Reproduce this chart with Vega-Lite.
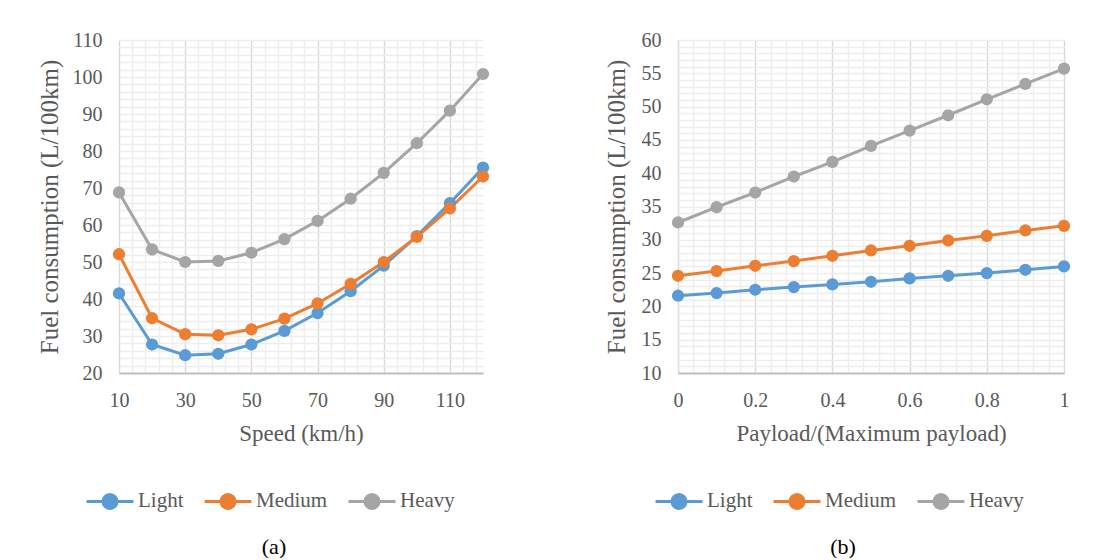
{
  "$schema": "https://vega.github.io/schema/vega-lite/v6.json",
  "background": "white",
  "padding": {"left": 37, "top": 30, "right": 0, "bottom": 0},
  "spacing": 114,
  "config": {
    "font": "Liberation Serif",
    "view": {"stroke": null},
    "axis": {
      "labelFont": "Liberation Serif",
      "labelFontSize": 20,
      "labelColor": "#595959",
      "titleFont": "Liberation Serif",
      "titleFontSize": 23,
      "titleFontWeight": "normal",
      "titleColor": "#595959",
      "ticks": false,
      "domainColor": "#BFBFBF",
      "domainWidth": 2,
      "labelOverlap": false,
      "labelFlush": false,
      "labelPadding": 17
    },
    "axisY": {"titleFontSize": 25},
    "legend": {
      "labelFont": "Liberation Serif",
      "labelFontSize": 21,
      "labelColor": "#595959",
      "symbolType": "M-1,0L1,0M-0.3,0A0.3,0.3,0,1,1,0.3,0A0.3,0.3,0,1,1,-0.3,0Z",
      "symbolSize": 2200,
      "symbolStrokeWidth": 3,
      "columnPadding": 14,
      "labelOffset": 3
    },
    "title": {"font": "Liberation Serif", "fontSize": 22, "fontWeight": "normal", "color": "black"}
  },
  "hconcat": [
    {
      "width": 364,
      "height": 333,
      "title": {"text": "(a)", "orient": "bottom", "anchor": "middle", "frame": "group", "dx": -27, "offset": 22},
      "data": {"values": [
        {"speed": 10, "type": "Light", "fuel": 41.5},
        {"speed": 20, "type": "Light", "fuel": 27.7},
        {"speed": 30, "type": "Light", "fuel": 24.8},
        {"speed": 40, "type": "Light", "fuel": 25.2},
        {"speed": 50, "type": "Light", "fuel": 27.7},
        {"speed": 60, "type": "Light", "fuel": 31.4},
        {"speed": 70, "type": "Light", "fuel": 36.2},
        {"speed": 80, "type": "Light", "fuel": 42.1},
        {"speed": 90, "type": "Light", "fuel": 49.0},
        {"speed": 100, "type": "Light", "fuel": 57.0},
        {"speed": 110, "type": "Light", "fuel": 65.9},
        {"speed": 120, "type": "Light", "fuel": 75.5},
        {"speed": 10, "type": "Medium", "fuel": 52.1},
        {"speed": 20, "type": "Medium", "fuel": 34.8},
        {"speed": 30, "type": "Medium", "fuel": 30.5},
        {"speed": 40, "type": "Medium", "fuel": 30.2},
        {"speed": 50, "type": "Medium", "fuel": 31.8},
        {"speed": 60, "type": "Medium", "fuel": 34.7},
        {"speed": 70, "type": "Medium", "fuel": 38.8},
        {"speed": 80, "type": "Medium", "fuel": 44.1},
        {"speed": 90, "type": "Medium", "fuel": 50.0},
        {"speed": 100, "type": "Medium", "fuel": 56.8},
        {"speed": 110, "type": "Medium", "fuel": 64.5},
        {"speed": 120, "type": "Medium", "fuel": 73.1},
        {"speed": 10, "type": "Heavy", "fuel": 68.8},
        {"speed": 20, "type": "Heavy", "fuel": 53.4},
        {"speed": 30, "type": "Heavy", "fuel": 50.0},
        {"speed": 40, "type": "Heavy", "fuel": 50.3},
        {"speed": 50, "type": "Heavy", "fuel": 52.5},
        {"speed": 60, "type": "Heavy", "fuel": 56.2},
        {"speed": 70, "type": "Heavy", "fuel": 61.1},
        {"speed": 80, "type": "Heavy", "fuel": 67.1},
        {"speed": 90, "type": "Heavy", "fuel": 74.1},
        {"speed": 100, "type": "Heavy", "fuel": 82.1},
        {"speed": 110, "type": "Heavy", "fuel": 90.9},
        {"speed": 120, "type": "Heavy", "fuel": 100.8}
      ]},
      "encoding": {
        "x": {
          "field": "speed", "type": "quantitative",
          "scale": {"domain": [10, 120], "nice": false, "zero": false},
          "axis": {
            "title": "Speed (km/h)",
            "titlePadding": 12,
            "values": [10,14,18,22,26,30,34,38,42,46,50,54,58,62,66,70,74,78,82,86,90,94,98,102,106,110,114,118],
            "labelExpr": "datum.value % 20 == 10 ? datum.label : ''",
            "grid": true,
            "gridColor": {"condition": {"test": "datum.value % 20 == 10", "value": "#D9D9D9"}, "value": "#EDEDED"},
            "gridWidth": 1.5
          }
        },
        "y": {
          "field": "fuel", "type": "quantitative",
          "scale": {"domain": [20, 110], "nice": false, "zero": false},
          "axis": {
            "title": "Fuel consumption (L/100km)",
            "titlePadding": 10,
            "values": [20,22,24,26,28,30,32,34,36,38,40,42,44,46,48,50,52,54,56,58,60,62,64,66,68,70,72,74,76,78,80,82,84,86,88,90,92,94,96,98,100,102,104,106,108,110],
            "labelExpr": "datum.value % 10 == 0 ? datum.label : ''",
            "grid": true,
            "gridColor": "#EDEDED",
            "gridWidth": 1.5,
            "domain": false
          }
        },
        "color": {
          "field": "type", "type": "nominal",
          "scale": {"domain": ["Light", "Medium", "Heavy"], "range": ["#5B9BD5", "#ED7D31", "#A5A5A5"]},
          "legend": {"title": null, "orient": "none", "direction": "horizontal", "legendX": -34, "legendY": 436}
        }
      },
      "layer": [
        {"mark": {"type": "line", "strokeWidth": 3}},
        {"mark": {"type": "point", "filled": true, "size": 150, "opacity": 1}}
      ]
    },
    {
      "width": 386,
      "height": 333,
      "title": {"text": "(b)", "orient": "bottom", "anchor": "middle", "frame": "group", "dx": -28, "offset": 22},
      "data": {"values": [
        {"payload": 0.0, "type": "Light", "fuel": 21.6},
        {"payload": 0.1, "type": "Light", "fuel": 22.0},
        {"payload": 0.2, "type": "Light", "fuel": 22.5},
        {"payload": 0.3, "type": "Light", "fuel": 22.9},
        {"payload": 0.4, "type": "Light", "fuel": 23.3},
        {"payload": 0.5, "type": "Light", "fuel": 23.7},
        {"payload": 0.6, "type": "Light", "fuel": 24.2},
        {"payload": 0.7, "type": "Light", "fuel": 24.6},
        {"payload": 0.8, "type": "Light", "fuel": 25.0},
        {"payload": 0.9, "type": "Light", "fuel": 25.5},
        {"payload": 1.0, "type": "Light", "fuel": 26.0},
        {"payload": 0.0, "type": "Medium", "fuel": 24.6},
        {"payload": 0.1, "type": "Medium", "fuel": 25.3},
        {"payload": 0.2, "type": "Medium", "fuel": 26.1},
        {"payload": 0.3, "type": "Medium", "fuel": 26.8},
        {"payload": 0.4, "type": "Medium", "fuel": 27.6},
        {"payload": 0.5, "type": "Medium", "fuel": 28.4},
        {"payload": 0.6, "type": "Medium", "fuel": 29.1},
        {"payload": 0.7, "type": "Medium", "fuel": 29.9},
        {"payload": 0.8, "type": "Medium", "fuel": 30.6},
        {"payload": 0.9, "type": "Medium", "fuel": 31.4},
        {"payload": 1.0, "type": "Medium", "fuel": 32.1},
        {"payload": 0.0, "type": "Heavy", "fuel": 32.6},
        {"payload": 0.1, "type": "Heavy", "fuel": 34.9},
        {"payload": 0.2, "type": "Heavy", "fuel": 37.1},
        {"payload": 0.3, "type": "Heavy", "fuel": 39.5},
        {"payload": 0.4, "type": "Heavy", "fuel": 41.7},
        {"payload": 0.5, "type": "Heavy", "fuel": 44.1},
        {"payload": 0.6, "type": "Heavy", "fuel": 46.4},
        {"payload": 0.7, "type": "Heavy", "fuel": 48.7},
        {"payload": 0.8, "type": "Heavy", "fuel": 51.1},
        {"payload": 0.9, "type": "Heavy", "fuel": 53.4},
        {"payload": 1.0, "type": "Heavy", "fuel": 55.7}
      ]},
      "encoding": {
        "x": {
          "field": "payload", "type": "quantitative",
          "scale": {"domain": [0, 1], "nice": false, "zero": false},
          "axis": {
            "title": "Payload/(Maximum payload)",
            "titlePadding": 12,
            "values": [0,0.04,0.08,0.12,0.16,0.2,0.24,0.28,0.32,0.36,0.4,0.44,0.48,0.52,0.56,0.6,0.64,0.68,0.72,0.76,0.8,0.84,0.88,0.92,0.96,1],
            "labelExpr": "abs(datum.value*5 - round(datum.value*5)) < 0.001 ? format(datum.value, '~g') : ''",
            "grid": true,
            "gridColor": {"condition": {"test": "abs(datum.value*5 - round(datum.value*5)) < 0.001", "value": "#D9D9D9"}, "value": "#EDEDED"},
            "gridWidth": 1.5
          }
        },
        "y": {
          "field": "fuel", "type": "quantitative",
          "scale": {"domain": [10, 60], "nice": false, "zero": false},
          "axis": {
            "title": "Fuel consumption (L/100km)",
            "titlePadding": 12,
            "values": [10,11,12,13,14,15,16,17,18,19,20,21,22,23,24,25,26,27,28,29,30,31,32,33,34,35,36,37,38,39,40,41,42,43,44,45,46,47,48,49,50,51,52,53,54,55,56,57,58,59,60],
            "labelExpr": "datum.value % 5 == 0 ? datum.label : ''",
            "grid": true,
            "gridColor": "#EDEDED",
            "gridWidth": 1.5,
            "domain": false
          }
        },
        "color": {
          "field": "type", "type": "nominal",
          "scale": {"domain": ["Light", "Medium", "Heavy"], "range": ["#5B9BD5", "#ED7D31", "#A5A5A5"]},
          "legend": {"title": null, "orient": "none", "direction": "horizontal", "legendX": -24, "legendY": 436}
        }
      },
      "layer": [
        {"mark": {"type": "line", "strokeWidth": 3}},
        {"mark": {"type": "point", "filled": true, "size": 150, "opacity": 1}}
      ]
    }
  ],
  "resolve": {"scale": {"color": "independent"}}
}
